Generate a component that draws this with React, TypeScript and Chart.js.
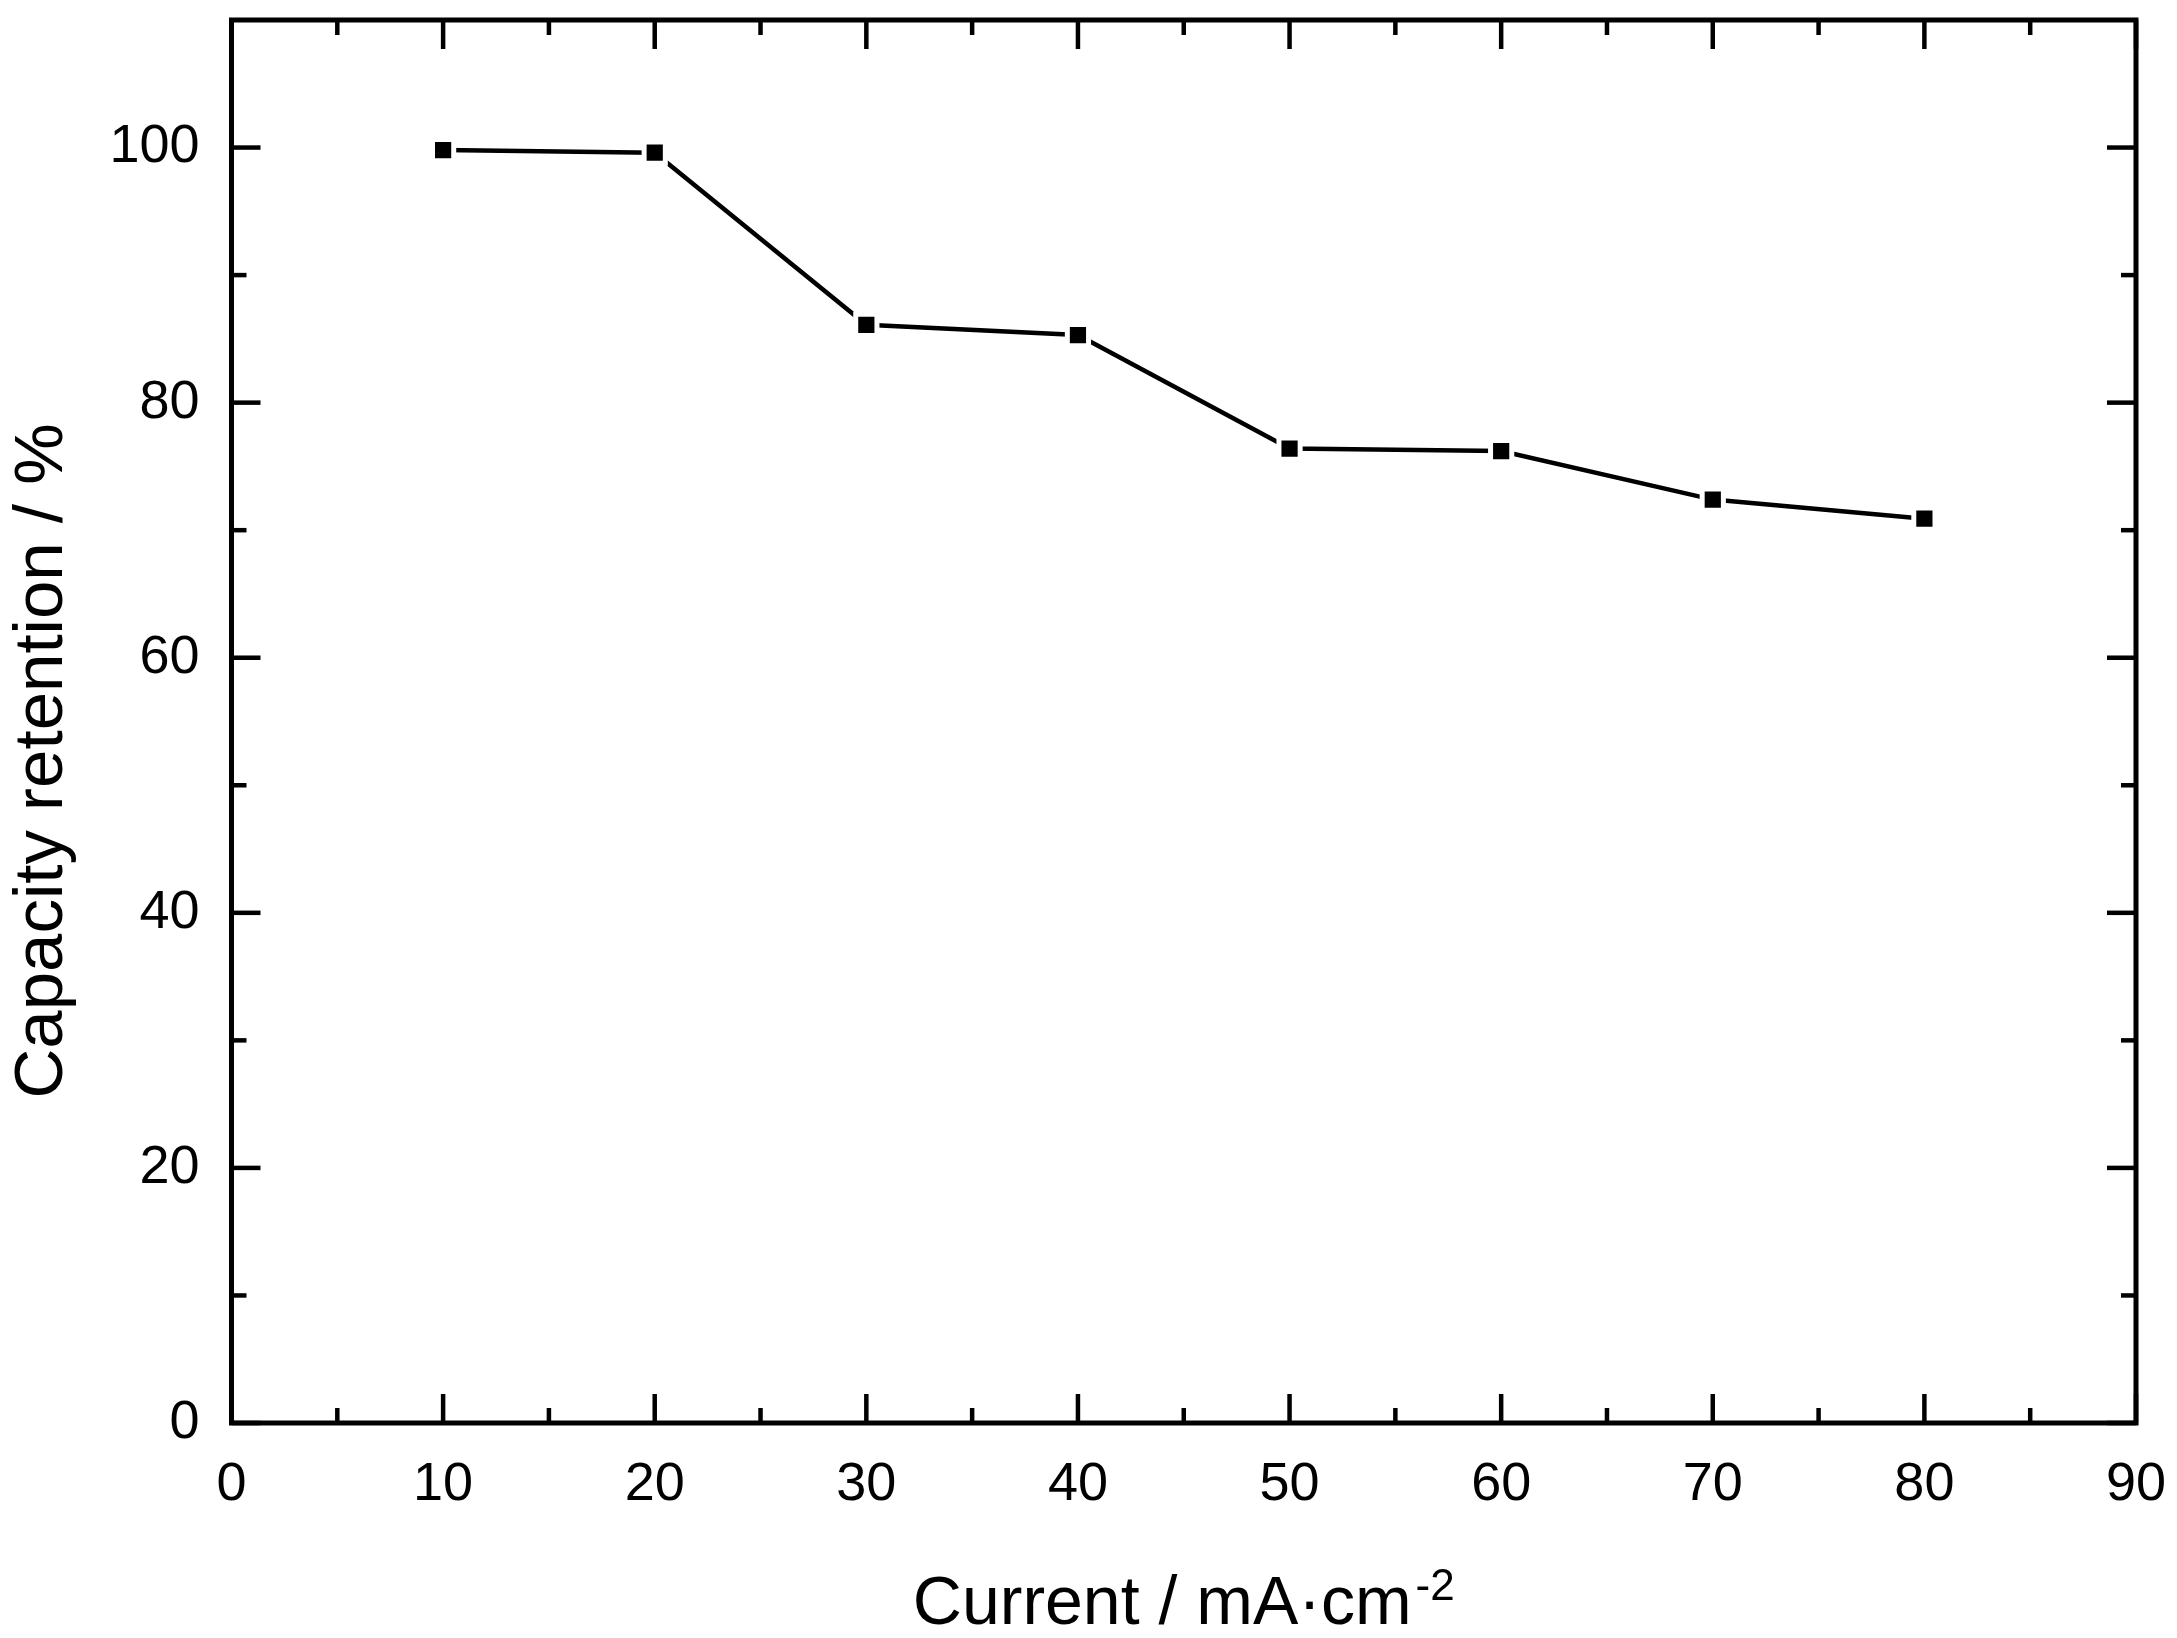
import React, { useEffect, useRef } from 'react';
import { Chart, registerables } from 'chart.js';

Chart.register(...registerables);

const currents = [10, 20, 30, 40, 50, 60, 70, 80];
const retention = [99.8, 99.6, 86.1, 85.3, 76.4, 76.2, 72.4, 70.9];
const xMajorTicks = [0, 10, 20, 30, 40, 50, 60, 70, 80, 90];
const xMinorTicks = [5, 15, 25, 35, 45, 55, 65, 75, 85];
const yMajorTicks = [0, 20, 40, 60, 80, 100];
const yMinorTicks = [10, 30, 50, 70, 90];
const xTitleMain = 'Current / mA\u00B7cm';
const xTitleSup = '-2';
const yTitle = 'Capacity retention / %';

const FONT = '"Liberation Sans", Arial, sans-serif';

const framePlugin = {
  id: 'originFrame',
  beforeDatasetsDraw(chart: any) {
    const { ctx, chartArea } = chart;
    const xs = chart.scales.x;
    const ys = chart.scales.y;
    const { left, right, top, bottom } = chartArea;
    ctx.save();
    ctx.strokeStyle = '#000';
    ctx.lineWidth = 4.5;
    ctx.lineCap = 'butt';
    const MAJ = 29;
    const MIN = 15;
    const tick = (x1: number, y1: number, x2: number, y2: number) => {
      ctx.beginPath();
      ctx.moveTo(x1, y1);
      ctx.lineTo(x2, y2);
      ctx.stroke();
    };
    xMajorTicks.forEach((v) => {
      const px = xs.getPixelForValue(v);
      tick(px, bottom, px, bottom - MAJ);
      tick(px, top, px, top + MAJ);
    });
    xMinorTicks.forEach((v) => {
      const px = xs.getPixelForValue(v);
      tick(px, bottom, px, bottom - MIN);
      tick(px, top, px, top + MIN);
    });
    yMajorTicks.forEach((v) => {
      const py = ys.getPixelForValue(v);
      tick(left, py, left + MAJ, py);
      tick(right, py, right - MAJ, py);
    });
    yMinorTicks.forEach((v) => {
      const py = ys.getPixelForValue(v);
      tick(left, py, left + MIN, py);
      tick(right, py, right - MIN, py);
    });
    ctx.lineWidth = 5;
    ctx.lineJoin = 'miter';
    ctx.strokeRect(left, top, right - left, bottom - top);
    ctx.restore();
  },
  afterDraw(chart: any) {
    const { ctx, chartArea } = chart;
    ctx.save();
    ctx.fillStyle = '#000';
    const mainFont = `68px ${FONT}`;
    const supFont = `44px ${FONT}`;
    ctx.font = mainFont;
    const w1 = ctx.measureText(xTitleMain).width;
    ctx.font = supFont;
    const w2 = ctx.measureText(xTitleSup).width;
    const cx = (chartArea.left + chartArea.right) / 2;
    const startX = cx - (w1 + 4 + w2) / 2;
    ctx.textAlign = 'left';
    ctx.textBaseline = 'alphabetic';
    ctx.font = mainFont;
    ctx.fillText(xTitleMain, startX, 1624);
    ctx.font = supFont;
    ctx.fillText(xTitleSup, startX + w1 + 4, 1600);
    ctx.translate(43, 761);
    ctx.rotate(-Math.PI / 2);
    ctx.font = `69px ${FONT}`;
    ctx.textAlign = 'center';
    ctx.textBaseline = 'middle';
    ctx.fillText(yTitle, 0, 0);
    ctx.restore();
  },
};

export default function App() {
  const ref = useRef<HTMLCanvasElement>(null);
  useEffect(() => {
    if (!ref.current) return;
    const chart = new Chart(ref.current, {
      type: 'line',
      data: {
        datasets: [
          {
            data: currents.map((c, i) => ({ x: c, y: retention[i] })),
            borderColor: '#000',
            borderWidth: 4.5,
            backgroundColor: '#000',
            pointStyle: 'rect',
            pointRadius: 15,
            pointBackgroundColor: '#000',
            pointBorderColor: '#fff',
            pointBorderWidth: 5,
            tension: 0,
            fill: false,
          },
        ],
      },
      options: {
        responsive: false,
        animation: false,
        events: [],
        layout: { padding: { top: 19.5, right: 41, left: 0, bottom: 0 } },
        plugins: { legend: { display: false }, tooltip: { enabled: false }, title: { display: false } },
        scales: {
          x: {
            type: 'linear',
            min: 0,
            max: 90,
            grid: { display: false, drawTicks: false },
            border: { display: false },
            afterBuildTicks: (s: any) => {
              s.ticks = xMajorTicks.map((v) => ({ value: v }));
            },
            afterFit: (s: any) => {
              s.height = 215;
              s.paddingLeft = 0;
              s.paddingRight = 0;
              s.paddingTop = 0;
              s.paddingBottom = 0;
            },
            ticks: {
              color: '#000',
              font: { family: FONT, size: 54 },
              padding: 30,
              maxRotation: 0,
              autoSkip: false,
            },
          },
          y: {
            type: 'linear',
            min: 0,
            max: 110,
            grid: { display: false, drawTicks: false },
            border: { display: false },
            afterBuildTicks: (s: any) => {
              s.ticks = yMajorTicks.map((v) => ({ value: v }));
            },
            afterFit: (s: any) => {
              s.width = 231.5;
              s.paddingLeft = 0;
              s.paddingRight = 0;
              s.paddingTop = 0;
              s.paddingBottom = 0;
            },
            ticks: {
              color: '#000',
              font: { family: FONT, size: 54 },
              padding: 32,
              autoSkip: false,
            },
          },
        },
      },
      plugins: [framePlugin],
    });
    return () => chart.destroy();
  }, []);
  return (
    <div style={{ position: 'absolute', left: 0, top: 0, width: 2177, height: 1638, background: '#fff' }}>
      <canvas ref={ref} width={2177} height={1638} style={{ display: 'block' }} />
    </div>
  );
}
